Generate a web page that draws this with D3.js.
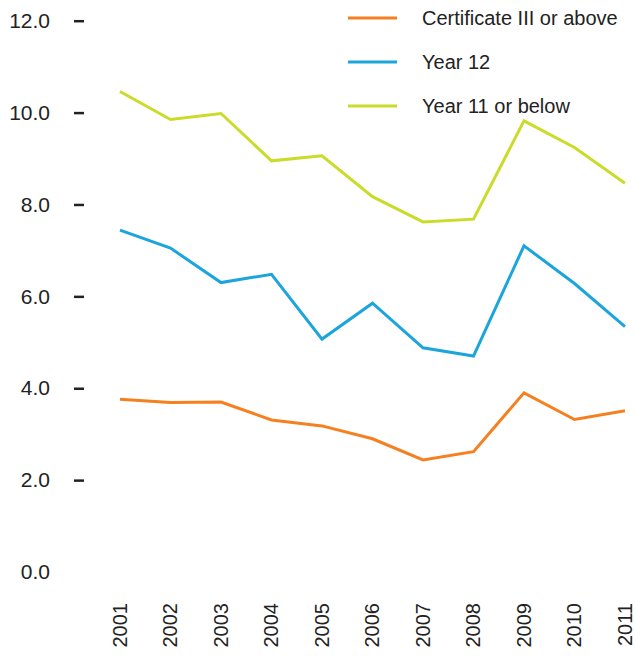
<!DOCTYPE html>
<html>
<head>
<meta charset="utf-8">
<script src="https://cdn.jsdelivr.net/npm/d3@7"></script>
<style>
  html, body { margin: 0; padding: 0; background: #fff; }
  svg { display: block; }
</style>
</head>
<body>
<svg id="chart" width="635" height="657"></svg>
<script>
const years = ["2001","2002","2003","2004","2005","2006","2007","2008","2009","2010","2011"];
const seriesNames = ["Certificate III or above", "Year 12", "Year 11 or below"];
const certIII = [3.76, 3.69, 3.70, 3.31, 3.18, 2.90, 2.44, 2.62, 3.90, 3.32, 3.51];
const year12 = [7.44, 7.05, 6.30, 6.48, 5.07, 5.85, 4.88, 4.70, 7.10, 6.28, 5.34];
const year11 = [10.46, 9.85, 9.98, 8.95, 9.06, 8.17, 7.62, 7.68, 9.82, 9.24, 8.46];
const yTicks = [0, 2, 4, 6, 8, 10, 12];
const colors = ["#f58020", "#1ca4dc", "#cbdb2a"];

const series = [certIII, year12, year11];

const svg = d3.select("#chart");
const x = d3.scalePoint().domain(years).range([120, 625]);
const y = d3.scaleLinear().domain([0, 12]).range([572, 20.7]);

// Y axis
const yAxis = svg.append("g")
  .attr("transform", "translate(84,0)")
  .call(d3.axisLeft(y).tickValues(yTicks).tickSize(10).tickPadding(24).tickFormat(d3.format(".1f")));
yAxis.select(".domain").remove();
yAxis.selectAll(".tick line").attr("stroke", "#222").attr("stroke-width", 2.5)
  .filter(d => d === 0).remove();
yAxis.selectAll(".tick text")
  .attr("font-family", "Liberation Sans, Arial, sans-serif")
  .attr("font-size", 21).attr("fill", "#222");

// X axis
const xAxis = svg.append("g")
  .attr("transform", "translate(0,603)")
  .call(d3.axisBottom(x).tickSize(0).tickPadding(0));
xAxis.select(".domain").remove();
xAxis.selectAll(".tick text")
  .attr("transform", "rotate(-90)")
  .attr("x", 0).attr("y", 0).attr("dy", "0.3em")
  .attr("text-anchor", "end")
  .attr("font-family", "Liberation Sans, Arial, sans-serif")
  .attr("font-size", 20).attr("fill", "#222");

// Lines
const line = d3.line().x((d, i) => x(years[i])).y(d => y(d));
svg.selectAll("path.series")
  .data(series)
  .enter().append("path")
  .attr("class", "series")
  .attr("d", d => line(d))
  .attr("fill", "none")
  .attr("stroke", (d, i) => colors[i])
  .attr("stroke-width", 3)
  .attr("stroke-linejoin", "miter");

// Legend
const legend = svg.append("g");
const ly = d3.scalePoint().domain(seriesNames).range([18, 106]);
seriesNames.forEach((name, i) => {
  legend.append("line")
    .attr("x1", 348).attr("x2", 397)
    .attr("y1", ly(name)).attr("y2", ly(name))
    .attr("stroke", colors[i]).attr("stroke-width", 3);
  legend.append("text")
    .attr("x", 422).attr("y", ly(name)).attr("dy", "0.35em")
    .attr("font-family", "Liberation Sans, Arial, sans-serif")
    .attr("font-size", 20).attr("fill", "#222")
    .text(name);
});
</script>
</body>
</html>
